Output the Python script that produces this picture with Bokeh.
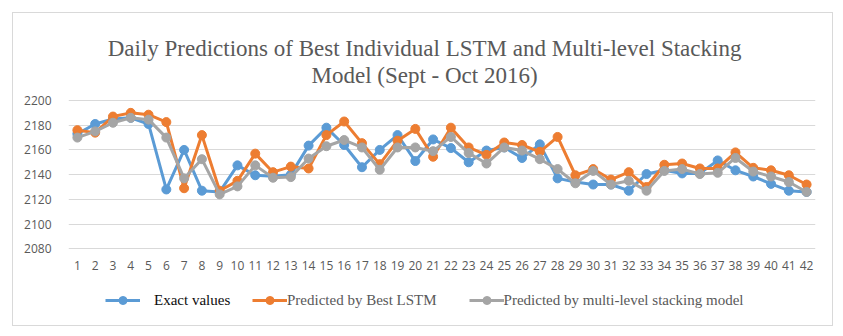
from bokeh.plotting import figure
from bokeh.models import Range1d, Legend, LegendItem, FixedTicker, Label
from bokeh.embed import file_html
from bokeh.resources import INLINE

days = list(range(1, 43))
day_labels = [str(d) for d in days]
y_ticks = [2080, 2100, 2120, 2140, 2160, 2180, 2200]
title_lines = ["Daily Predictions of Best Individual LSTM and Multi-level Stacking",
               "Model (Sept - Oct 2016)"]

exact = [2173, 2181, 2185, 2186, 2181, 2128, 2160, 2127, 2126, 2147.5,
         2139.5, 2138.6, 2140, 2163.5, 2178, 2164, 2146, 2160, 2172, 2151,
         2168.5, 2161.5, 2150, 2159.5, 2162, 2153.5, 2164.5, 2137, 2134, 2132,
         2132, 2127, 2140.5, 2143.5, 2141, 2141, 2151.5, 2143.5, 2138.5, 2132.5,
         2127, 2126]
lstm = [2176, 2174, 2187, 2190, 2188.5, 2182.5, 2129, 2172, 2127, 2135,
        2157, 2142, 2146.5, 2145, 2172, 2183, 2165.5, 2148.5, 2167.5, 2177,
        2154.5, 2178, 2162, 2156, 2166, 2164, 2158.5, 2170.5, 2139.5, 2144.5,
        2136, 2142, 2130, 2148, 2149, 2145, 2145, 2158, 2145.5, 2143.5,
        2139.5, 2132]
stack = [2170, 2175, 2182, 2186, 2184.5, 2170, 2137, 2152.5, 2124, 2130.5,
         2147.5, 2137.5, 2138, 2153, 2163, 2168, 2162, 2144, 2162, 2162,
         2159, 2170.5, 2157.5, 2149, 2162, 2159.5, 2152.5, 2144.5, 2133, 2143,
         2132, 2135, 2127, 2143, 2144.5, 2140.5, 2141.5, 2153.5, 2142.5, 2138.5,
         2134, 2126]

series = [
    ("Exact values", exact, "#5B9BD5"),
    ("Predicted by Best LSTM", lstm, "#ED7D31"),
    ("Predicted by multi-level stacking model", stack, "#A5A5A5"),
]

# the frame spans the whole chart box so that the title and legend live inside it
p = figure(width=821, height=314, output_backend="svg", toolbar_location=None,
           title=None,
           x_range=Range1d(0.5, 42.5), y_range=Range1d(2026, 2269.6),
           min_border_left=55, min_border_right=19, min_border_top=1,
           min_border_bottom=12, margin=(12, 0, 0, 12))
p.styles = {"border": "1px solid #d9d9d9"}
p.outline_line_color = None
p.background_fill_color = "white"
p.border_fill_color = "white"

for txt, ty in ((title_lines[0], 2242.1), (title_lines[1], 2220.6)):
    p.add_layout(Label(x=20.52, y=ty, text=txt, text_align="center",
                       text_baseline="alphabetic",
                       text_font="Liberation Serif", text_font_size="23px",
                       text_color="#595959"))

p.xgrid.grid_line_color = None
p.ygrid.grid_line_color = "#d9d9d9"
p.ygrid.grid_line_width = 1

p.xaxis.ticker = FixedTicker(ticks=days)
p.xaxis.major_label_overrides = {d: s for d, s in zip(days, day_labels)}
p.xaxis.fixed_location = y_ticks[0]
p.yaxis.ticker = FixedTicker(ticks=y_ticks)
for ax in (p.xaxis, p.yaxis):
    ax.axis_line_color = None
    ax.major_tick_line_color = None
    ax.minor_tick_line_color = None
    ax.major_label_text_font = "Open Sans"
    ax.major_label_text_font_size = "12px"
    ax.major_label_text_color = "#595959"
p.yaxis.major_label_standoff = 11
p.xaxis.major_label_standoff = 6

items = []
for name, vals, color in series:
    ln = p.line(days, vals, line_color=color, line_width=3)
    sc = p.scatter(days, vals, size=9, fill_color=color, line_color=color)
    items.append(LegendItem(label=name, renderers=[ln, sc]))

common = dict(orientation="horizontal", glyph_width=35, glyph_height=20,
              label_text_font="Liberation Serif", label_text_font_size="15px",
              border_line_color=None, background_fill_alpha=0, padding=0, margin=0)
leg1 = Legend(items=items[:1], location=(37, 5), label_standoff=14,
              label_text_color="#0d0d0d", **common)
leg2 = Legend(items=items[1:], location=(184, 5), label_standoff=0, spacing=32,
              label_text_color="#595959", **common)
p.add_layout(leg1, "center")
p.add_layout(leg2, "center")

open("out.html", "w").write(file_html(p, INLINE))
